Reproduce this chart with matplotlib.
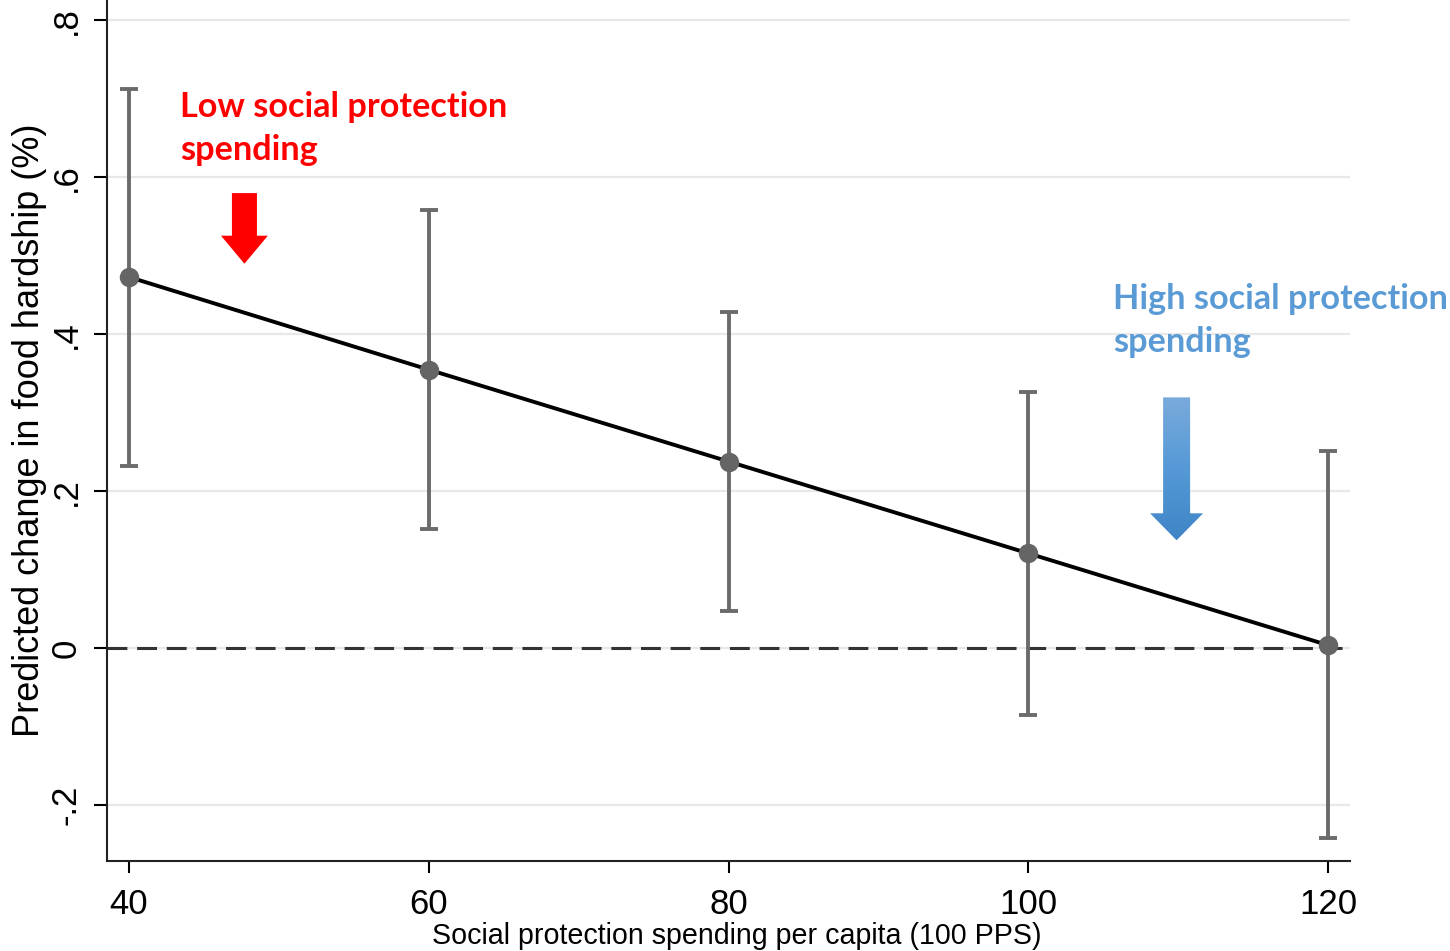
import numpy as np
import matplotlib
matplotlib.use("Agg")
import matplotlib.pyplot as plt
from matplotlib.patches import FancyArrow

# predicted change in food hardship by social protection spending
spending = [40, 60, 80, 100, 120]
predicted = [0.473, 0.355, 0.238, 0.121, 0.004]
ci_low = [0.232, 0.152, 0.047, -0.085, -0.242]
ci_high = [0.712, 0.558, 0.428, 0.327, 0.252]

yticks = [-0.2, 0, 0.2, 0.4, 0.6, 0.8]
ytick_labels = ["-.2", "0", ".2", ".4", ".6", ".8"]

low_label = "Low social protection\nspending"
high_label = "High social protection\nspending"

TICK_FONT = "Liberation Sans"
NOTE_FONT = "Lato"

fig = plt.figure(figsize=(14.5, 9.51), dpi=100)
ax = fig.add_axes([107 / 1450, 90 / 951, (1350 - 107) / 1450, 861 / 951])

# light horizontal grid
for y in yticks:
    ax.axhline(y, color="#e8e8e8", lw=1.6, zorder=0)
ax.axhline(0, color="#333333", lw=2.2, dashes=(6.5, 3.2), zorder=1)

pred = np.array(predicted)
yerr = [pred - np.array(ci_low), np.array(ci_high) - pred]
ax.plot(spending, predicted, color="black", lw=2.8, zorder=3)
ax.errorbar(spending, predicted, yerr=yerr, fmt="none", ecolor="#6b6b6b",
            elinewidth=2.8, capsize=6.5, capthick=2.8, zorder=2)
ax.plot(spending, predicted, "o", color="#656565", ms=13, zorder=4)

# arrows
ax.add_patch(FancyArrow(47.7, 0.58, 0, -0.09, width=1.67, head_width=3.13,
                        head_length=0.0357, length_includes_head=True,
                        color="#ff0000", lw=0, zorder=5))
blue = FancyArrow(109.9, 0.3197, 0, -0.1821, width=1.8, head_width=3.54,
                  head_length=0.0344, length_includes_head=True,
                  facecolor="none", lw=0, zorder=5)
ax.add_patch(blue)
grad = np.linspace(0, 1, 256).reshape(-1, 1)
cmap = matplotlib.colors.LinearSegmentedColormap.from_list(
    "bluefade", ["#7aaadc", "#5599d6", "#3f85c6"])
im = ax.imshow(grad, extent=(107.9, 111.9, 0.1376, 0.3197), origin="upper",
               cmap=cmap, aspect="auto", zorder=5)
im.set_clip_path(blue)
ax.set_xlim(38.53, 121.47)
ax.set_ylim(-0.271, 0.826)

# baseline given for the last line of each note
ax.text(43.4, 0.6217, low_label, color="#ff0000", fontsize=24.7,
        fontweight="bold", family=NOTE_FONT, va="baseline", linespacing=1.45)
ax.text(105.64, 0.377, high_label, color="#5b9bd5", fontsize=24.7,
        fontweight="bold", family=NOTE_FONT, va="baseline", linespacing=1.45)

# axes styling
for side in ("top", "right"):
    ax.spines[side].set_visible(False)
for side in ("left", "bottom"):
    ax.spines[side].set_linewidth(1.5)
    ax.spines[side].set_color("#222222")

ax.set_xticks(spending)
ax.set_xticklabels([str(v) for v in spending], family=TICK_FONT, fontsize=25)
ax.set_yticks(yticks)
ax.set_yticklabels(ytick_labels, family=TICK_FONT, fontsize=25,
                   rotation=90, va="center")
ax.tick_params(axis="x", length=8.6, width=1.5, pad=11)
ax.tick_params(axis="y", length=9.4, width=1.5, pad=8)

ax.set_xlabel("Social protection spending per capita (100 PPS)",
              family=TICK_FONT, fontsize=20.6, labelpad=0)
ax.xaxis.set_label_coords(0.5064, -0.071)
ax.set_ylabel("Predicted change in food hardship (%)",
              family=TICK_FONT, fontsize=26, labelpad=2)

fig.savefig("out.png", dpi=100)
